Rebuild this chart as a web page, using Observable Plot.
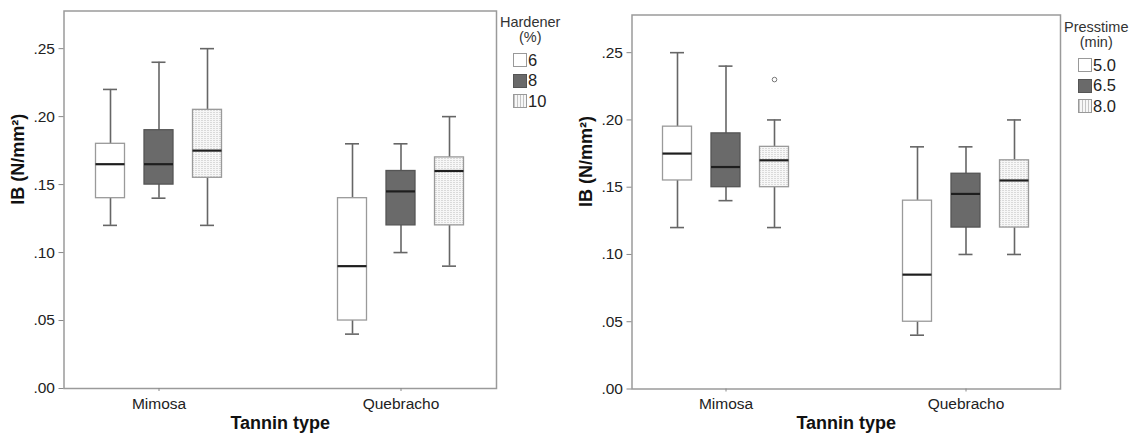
<!DOCTYPE html>
<html>
<head>
<meta charset="utf-8">
<script src="https://cdn.jsdelivr.net/npm/d3@7"></script>
<script src="https://cdn.jsdelivr.net/npm/@observablehq/plot@0.6"></script>
<style>
  html, body { margin: 0; padding: 0; background: #fff; }
  #wrap { position: relative; width: 1140px; height: 440px; font-family: "Liberation Sans", Arial, sans-serif; }
  .panel { position: absolute; top: 0; height: 440px; }
  .legend { position: absolute; font-family: "Liberation Sans", Arial, sans-serif; color: #333; }
  .legend .title { font-size: 14.5px; line-height: 15px; text-align: center; }
  .legend .row { display: flex; align-items: center; height: 20.5px; font-size: 16.5px; color: #222; }
  .legend .sw { width: 14px; height: 14px; box-sizing: border-box; margin-right: 1px; }
</style>
</head>
<body>
<div id="wrap"></div>
<script>
// ---------- data ----------
const tannins = ["Mimosa", "Quebracho"];

// Panel A: Hardener (%)
const hardenerLevels = ["6", "8", "10"];
// [tannin][level]
const hardenerMin    = [[0.12, 0.14, 0.12], [0.04, 0.10, 0.09]];
const hardenerQ1     = [[0.14, 0.15, 0.155], [0.05, 0.12, 0.12]];
const hardenerMedian = [[0.165, 0.165, 0.175], [0.09, 0.145, 0.16]];
const hardenerQ3     = [[0.18, 0.19, 0.205], [0.14, 0.16, 0.17]];
const hardenerMax    = [[0.22, 0.24, 0.25], [0.18, 0.18, 0.20]];
const hardenerOutliers = [];

// Panel B: Presstime (min)
const presstimeLevels = ["5.0", "6.5", "8.0"];
const presstimeMin    = [[0.12, 0.14, 0.12], [0.04, 0.10, 0.10]];
const presstimeQ1     = [[0.155, 0.15, 0.15], [0.05, 0.12, 0.12]];
const presstimeMedian = [[0.175, 0.165, 0.17], [0.085, 0.145, 0.155]];
const presstimeQ3     = [[0.195, 0.19, 0.18], [0.14, 0.16, 0.17]];
const presstimeMax    = [[0.25, 0.24, 0.20], [0.18, 0.18, 0.20]];
const presstimeOutliers = [{tannin: "Mimosa", level: 2, value: 0.23}];

const yTicks = [0, 0.05, 0.10, 0.15, 0.20, 0.25];
const yLabel = "IB (N/mm²)";
const xLabel = "Tannin type";

// ---------- styling ----------
const levelFills = ["#ffffff", "#6a6a6a", null]; // null => pattern
const levelStrokes = ["#9a9a9a", "#555555", "#9a9a9a"];
const boxStep = 48.5;

function buildRows(levels, mn, q1, med, q3, mx) {
  const rows = [];
  tannins.forEach((t, ti) => levels.forEach((l, li) => {
    rows.push({tannin: t, level: l, li, min: mn[ti][li], q1: q1[ti][li], med: med[ti][li], q3: q3[ti][li], max: mx[ti][li]});
  }));
  return rows;
}

function makePanel(opts) {
  const {levels, rows, outliers, margins, patternId, yMax, width} = opts;
  const marks = [];
  levels.forEach((l, li) => {
    const d = rows.filter(r => r.li === li);
    const dx = (li - 1) * boxStep;
    const fill = levelFills[li] || `url(#${patternId})`;
    marks.push(
      Plot.ruleX(d, {x: "tannin", y1: "min", y2: "q1", dx, stroke: "#666", strokeWidth: 1.6}),
      Plot.ruleX(d, {x: "tannin", y1: "q3", y2: "max", dx, stroke: "#666", strokeWidth: 1.6}),
      Plot.tickY(d, {x: "tannin", y: "min", dx, insetLeft: 7.5, insetRight: 7.5, stroke: "#666", strokeWidth: 1.6}),
      Plot.tickY(d, {x: "tannin", y: "max", dx, insetLeft: 7.5, insetRight: 7.5, stroke: "#666", strokeWidth: 1.6}),
      Plot.barY(d, {x: "tannin", y1: "q1", y2: "q3", dx, fill, stroke: levelStrokes[li], strokeWidth: 1.3}),
      Plot.tickY(d, {x: "tannin", y: "med", dx, stroke: "#1e1e1e", strokeWidth: 2.2})
    );
    const o = outliers.filter(p => p.level === li);
    if (o.length) marks.push(Plot.dot(o, {x: "tannin", y: "value", dx, r: 2.3, stroke: "#777", fill: "#fff", strokeWidth: 1}));
  });
  marks.push(
    Plot.frame({stroke: "#9a9a9a", strokeWidth: 1.5}),
    Plot.axisY({ticks: yTicks, tickFormat: d => d.toFixed(2).replace(/^0/, ""), tickSize: 5, tickPadding: 4, stroke: "#888", fill: "#222", fontSize: 15.5, label: null}),
    Plot.axisX({tickSize: 3, tickPadding: 6, stroke: "#888", fill: "#222", fontSize: 15.5, label: null}),
    Plot.text([yLabel], {frameAnchor: "left", dx: -46, dy: 5, rotate: -90, fontWeight: "bold", fontSize: 18, fill: "#111"}),
    Plot.text([xLabel], {frameAnchor: "bottom", dy: 40, fontWeight: "bold", fontSize: 18, fill: "#111"})
  );
  const svg = Plot.plot({
    width, height: 440,
    marginLeft: margins[0], marginRight: margins[1], marginTop: margins[2], marginBottom: margins[3],
    style: {fontFamily: "Liberation Sans, Arial, sans-serif", fontSize: "15.5px", background: "#fff", overflow: "visible"},
    x: {domain: tannins, paddingInner: 0.88, paddingOuter: 0.33},
    y: {domain: [0, yMax]},
    marks
  });
  const ns = "http://www.w3.org/2000/svg";
  const defs = document.createElementNS(ns, "defs");
  defs.innerHTML = `<pattern id="${patternId}" width="3" height="2" patternUnits="userSpaceOnUse">
    <rect width="3" height="2" fill="#f7f7f7"/><rect width="1" height="1" fill="#bdbdbd"/></pattern>`;
  svg.insertBefore(defs, svg.firstChild);
  return svg;
}

function makeLegend(title, levels, left, top) {
  const div = document.createElement("div");
  div.className = "legend";
  div.style.left = left + "px";
  div.style.top = top + "px";
  let html = `<div class="title">${title[0]}<br>${title[1]}</div><div style="height:5px"></div>`;
  levels.forEach((l, li) => {
    let bg;
    if (li === 0) bg = "background:#fff;border:1px solid #999;";
    else if (li === 1) bg = "background:#6a6a6a;border:1px solid #555;";
    else bg = "background:repeating-linear-gradient(90deg,#c4c4c4 0 1px,#f7f7f7 1px 3px);border:1px solid #999;";
    html += `<div class="row"><div class="sw" style="${bg}"></div>${l}</div>`;
  });
  div.innerHTML = html;
  return div;
}

const wrap = document.getElementById("wrap");

const p1 = document.createElement("div");
p1.className = "panel"; p1.style.left = "0px"; p1.style.width = "570px";
p1.appendChild(makePanel({
  levels: hardenerLevels,
  rows: buildRows(hardenerLevels, hardenerMin, hardenerQ1, hardenerMedian, hardenerQ3, hardenerMax),
  outliers: hardenerOutliers, margins: [63.5, 74, 10.5, 52], patternId: "dotsA", yMax: 0.2777, width: 570
}));
const lg1 = makeLegend(["Hardener", "(%)"], hardenerLevels, 500, 15);
p1.appendChild(lg1);
wrap.appendChild(p1);

const p2 = document.createElement("div");
p2.className = "panel"; p2.style.left = "570px"; p2.style.width = "570px";
p2.appendChild(makePanel({
  levels: presstimeLevels,
  rows: buildRows(presstimeLevels, presstimeMin, presstimeQ1, presstimeMedian, presstimeQ3, presstimeMax),
  outliers: presstimeOutliers, margins: [61.5, 80, 14.5, 51.5], patternId: "dotsB", yMax: 0.278, width: 570
}));
const lg2 = makeLegend(["Presstime", "(min)"], presstimeLevels, 494, 20);
p2.appendChild(lg2);
wrap.appendChild(p2);

// align legend swatch columns
lg1.querySelectorAll(".row").forEach(r => r.style.paddingLeft = "13px");
lg2.querySelectorAll(".row").forEach(r => r.style.paddingLeft = "14px");
</script>
</body>
</html>
